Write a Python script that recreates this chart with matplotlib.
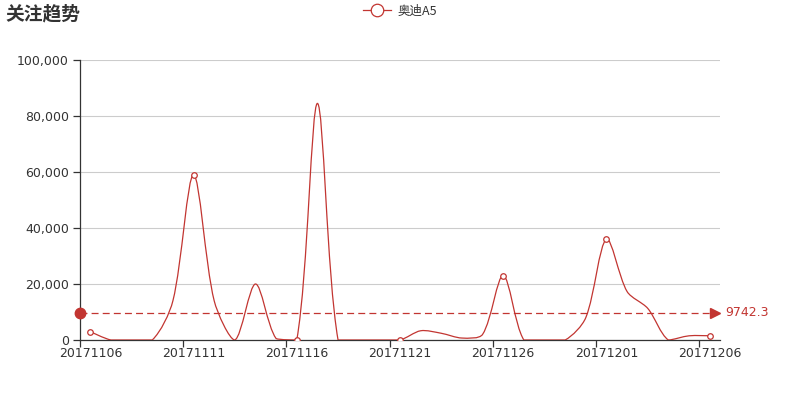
import numpy as np
import matplotlib
matplotlib.use("Agg")
import matplotlib.pyplot as plt
from matplotlib.path import Path
from matplotlib.patches import PathPatch
from matplotlib.lines import Line2D

plt.rcParams['font.family'] = ['DejaVu Sans', 'Noto Sans CJK SC']

dates = ["201711%02d" % d for d in range(6, 31)] + ["201712%02d" % d for d in range(1, 7)]
values = [3000, 0, 0, 0, 14000, 59000, 14000, 0, 20000, 511,
          0, 84500, 0, 0, 0, 0, 3300, 2400, 700, 2000,
          23000, 0, 0, 0, 8000, 36000, 17300, 11300, 0, 1500,
          1500]
series_name = "奥迪A5"
title = "关注趋势"
yticks = [0, 20000, 40000, 60000, 80000, 100000]

RED = "#c23531"
TXT = "#333333"

fig = plt.figure(figsize=(8, 4), dpi=100)
ax = fig.add_axes([0.1, 0.15, 0.8, 0.7])
n = len(values)
x = np.arange(n)
y = np.array(values, dtype=float)
ax.set_xlim(-0.5, n - 0.5)
ax.set_ylim(0, 100000)

# echarts-style smooth bezier computed in display space
fig.canvas.draw()
T = ax.transData
pts = T.transform(np.column_stack([x, y]))
mn = pts.min(axis=0); mx = pts.max(axis=0)
smooth = 0.3
cps = [pts[0].copy()]
for i in range(1, n - 1):
    p, pp, pn = pts[i], pts[i - 1], pts[i + 1]
    v = (pn - pp) * smooth
    d0 = np.hypot(*(p - pp)); d1 = np.hypot(*(p - pn))
    s = d0 + d1
    if s:
        d0 /= s; d1 /= s
    c0 = np.clip(p - v * d0, mn, mx)
    c1 = np.clip(p + v * d1, mn, mx)
    cps += [c0, c1]
cps.append(pts[-1].copy())
verts = [pts[0]]
codes = [Path.MOVETO]
for i in range(n - 1):
    verts += [cps[2 * i], cps[2 * i + 1], pts[i + 1]]
    codes += [Path.CURVE4] * 3
verts = T.inverted().transform(np.array(verts))
ax.add_patch(PathPatch(Path(verts, codes), facecolor='none', edgecolor=RED, lw=0.9, zorder=3))

sel = x[::5]
ax.plot(sel, y[::5], linestyle='none', marker='o', ms=4, mfc='white', mec=RED, mew=0.9, zorder=4)

# mean line
mean = y.mean()
ax.plot([-0.5, n - 0.5 - 0.45], [mean, mean], color=RED, lw=0.9, ls=(0, (5 / 0.9, 3 / 0.9)), zorder=2)
ax.plot([-0.5], [mean], marker='o', ms=7.5, color=RED, clip_on=False, zorder=5)
ax.plot([n - 0.5 - 0.25], [mean], marker='>', ms=7, color=RED, clip_on=False, zorder=5)
ax.annotate(f"{mean:.1f}", xy=(n - 0.5, mean), xytext=(4, 0), textcoords='offset points',
            color=RED, fontsize=9, va='center', ha='left', annotation_clip=False)

# axes styling
ax.set_yticks(yticks)
ax.set_yticklabels([f"{v:,}" for v in yticks])
ax.grid(axis='y', color='#cccccc', lw=0.8)
ax.set_axisbelow(True)
for s in ['top', 'right']:
    ax.spines[s].set_visible(False)
for s in ['left', 'bottom']:
    ax.spines[s].set_color(TXT)
    ax.spines[s].set_linewidth(0.9)
ax.tick_params(axis='y', colors=TXT, labelsize=9, length=5, width=0.9, pad=3)
lab_idx = list(range(0, n, 5))
ax.set_xticks(lab_idx)
ax.set_xticklabels([dates[i] for i in lab_idx])
ax.tick_params(axis='x', which='major', length=0, colors=TXT, labelsize=9, pad=5)
ax.set_xticks([i - 0.5 for i in range(0, n, 5)], minor=True)
ax.tick_params(axis='x', which='minor', length=5, width=0.9, color=TXT)

fig.text(5 / 800, 1 - 14 / 400, title, fontsize=13.5, fontweight='bold', color=TXT,
         va='center', ha='left', family=['Noto Sans CJK SC', 'DejaVu Sans'])
h = Line2D([], [], color=RED, lw=0.9, marker='o', ms=9, mfc='white', mec=RED, mew=0.9)
fig.legend([h], [series_name], loc='center', bbox_to_anchor=(0.5, 1 - 11 / 400), frameon=False,
           prop={'family': ['Noto Sans CJK SC', 'DejaVu Sans'], 'size': 9}, handlelength=2.2,
           handletextpad=0.5, labelcolor=TXT)

fig.savefig("out.png", dpi=100)
